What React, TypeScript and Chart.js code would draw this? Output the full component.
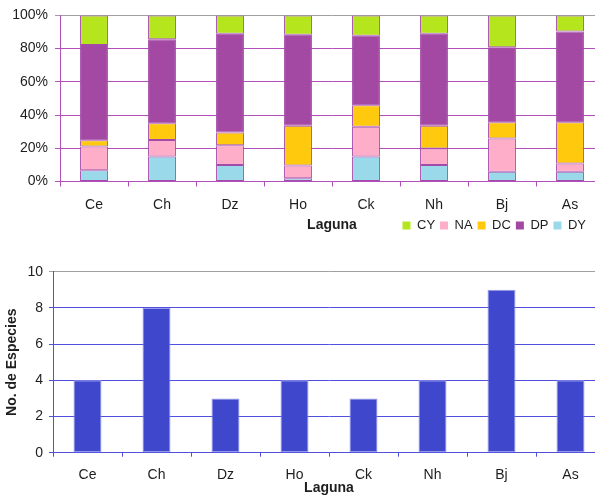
import React, { useEffect, useRef } from "react";
import { Chart, registerables } from "chart.js";

Chart.register(...registerables);

const lagunas = ["Ce", "Ch", "Dz", "Ho", "Ck", "Nh", "Bj", "As"];
// composition (%) per laguna, stacked bottom to top: DY, NA, DC, DP, CY
const DY = [6.7, 15, 10, 2, 15, 10, 5.9, 5.9];
const NA = [14.3, 10, 11.8, 7.7, 18, 9.8, 20, 5];
const DC = [3.8, 10, 7.7, 23.8, 12.9, 13.7, 9.7, 24.7];
const DP = [57.4, 50.7, 59.5, 54.8, 41.8, 55.4, 45.2, 54.7];
const CY = [17.8, 14.3, 11, 11.7, 12.3, 11.1, 19.2, 9.7];
const legendOrder = ["CY", "NA", "DC", "DP", "DY"];
const pctTicks = [0, 20, 40, 60, 80, 100];

const especies = [4, 8, 3, 4, 3, 4, 9, 4];

const FONT = "'Liberation Sans', Arial, sans-serif";
const TXT = "#1e1e1e";

export default function App() {
  const topRef = useRef<HTMLCanvasElement>(null);
  const botRef = useRef<HTMLCanvasElement>(null);

  useEffect(() => {
    const purple = "#b24fba";
    const border = "#a44aa8";
    const mk = (label: string, data: number[], color: string) => ({
      label,
      data,
      backgroundColor: color,
      borderColor: border,
      borderWidth: 1,
      borderSkipped: false,
      barPercentage: 0.41,
      categoryPercentage: 1,
    });
    // nudge the legend box left so it ends where the reference's does
    const legendShift = {
      id: "legendShift",
      afterLayout(chart: any) {
        const lg = chart.legend;
        if (lg) {
          lg.left -= 13;
          lg.right -= 13;
        }
      },
    };
    const top = new Chart(topRef.current!, {
      type: "bar",
      plugins: [legendShift],
      data: {
        labels: lagunas,
        datasets: [
          mk("DY", DY, "#99d9ea"),
          mk("NA", NA, "#ffaec9"),
          mk("DC", DC, "#ffc90e"),
          mk("DP", DP, "#a349a4"),
          mk("CY", CY, "#b5e61d"),
        ],
      },
      options: {
        animation: false,
        responsive: false,
        devicePixelRatio: 1,
        layout: { padding: { top: 15, right: 16, left: 0, bottom: 0 } },
        plugins: {
          tooltip: { enabled: false },
          legend: {
            position: "bottom",
            align: "end",
            labels: {
              boxWidth: 8,
              boxHeight: 8,
              padding: 5,
              color: TXT,
              font: { family: FONT, size: 13 },
              sort: (a: any, b: any) =>
                legendOrder.indexOf(a.text) - legendOrder.indexOf(b.text),
              generateLabels: (chart: any) =>
                Chart.defaults.plugins.legend.labels
                  .generateLabels(chart)
                  .map((l: any) => ({ ...l, lineWidth: 0 })),
            },
          },
        },
        scales: {
          x: {
            stacked: true,
            afterFit: (s: any) => {
              s.height = 32.5;
            },
            grid: {
              drawOnChartArea: false,
              drawTicks: true,
              tickLength: 5,
              color: purple,
            },
            border: { color: purple, width: 1 },
            ticks: { color: TXT, font: { family: FONT, size: 14 }, padding: 10 },
            title: {
              display: true,
              text: "Laguna",
              color: TXT,
              font: { family: FONT, size: 14, weight: "bold" },
              padding: { top: 0, bottom: -19.4 },
            },
          },
          y: {
            stacked: true,
            min: 0,
            max: 100,
            afterFit: (s: any) => {
              s.width = 60;
            },
            afterBuildTicks: (s: any) => {
              s.ticks = pctTicks.map((v) => ({ value: v }));
            },
            grid: {
              color: (c: any) => (c.tick && c.tick.value === 100 ? "#a0a0a0" : purple),
              tickLength: 5,
            },
            border: { color: purple, width: 1 },
            ticks: {
              color: TXT,
              font: { family: FONT, size: 14 },
              padding: 7,
              callback: (v: any) => v + "%",
            },
          },
        },
      },
    });

    const blue = "#5050dc";
    const bot = new Chart(botRef.current!, {
      type: "bar",
      data: {
        labels: lagunas,
        datasets: [
          {
            label: "No. de Especies",
            data: especies,
            backgroundColor: "#3f48cc",
            borderColor: "#9a9aee",
            borderWidth: 1,
            borderSkipped: false,
            barPercentage: 0.406,
            categoryPercentage: 1,
          },
        ],
      },
      options: {
        animation: false,
        responsive: false,
        devicePixelRatio: 1,
        layout: { padding: { top: 26.7, right: 15, left: 0, bottom: 0 } },
        plugins: { legend: { display: false }, tooltip: { enabled: false } },
        scales: {
          x: {
            afterFit: (s: any) => {
              s.height = 44.3;
            },
            grid: {
              drawOnChartArea: false,
              drawTicks: true,
              tickLength: 4,
              color: blue,
            },
            border: { color: blue, width: 1 },
            ticks: { color: TXT, font: { family: FONT, size: 14 }, padding: 10 },
            title: {
              display: true,
              text: "Laguna",
              color: TXT,
              font: { family: FONT, size: 14, weight: "bold" },
              padding: { top: 0, bottom: 0 },
            },
          },
          y: {
            min: 0,
            max: 10,
            afterFit: (s: any) => {
              s.width = 53;
            },
            ticks: {
              stepSize: 2,
              color: TXT,
              font: { family: FONT, size: 14 },
              padding: 6,
            },
            grid: {
              color: (c: any) => (c.tick && c.tick.value === 10 ? "#a0a0a0" : blue),
              tickLength: 4,
            },
            border: { color: blue, width: 1 },
            title: {
              display: true,
              text: "No. de Especies",
              color: TXT,
              font: { family: FONT, size: 14, weight: "bold" },
              padding: { top: 3.6, bottom: 0 },
            },
          },
        },
      },
    });

    return () => {
      top.destroy();
      bot.destroy();
    };
  }, []);

  return (
    <div
      style={{
        position: "fixed",
        left: 0,
        top: 0,
        width: 595,
        height: 497,
        overflow: "hidden",
        background: "#fff",
      }}
    >
      <canvas
        ref={topRef}
        width={620}
        height={242}
        style={{ position: "absolute", left: 0, top: 0 }}
      />
      <canvas
        ref={botRef}
        width={620}
        height={252}
        style={{ position: "absolute", left: 0, top: 245 }}
      />
    </div>
  );
}
